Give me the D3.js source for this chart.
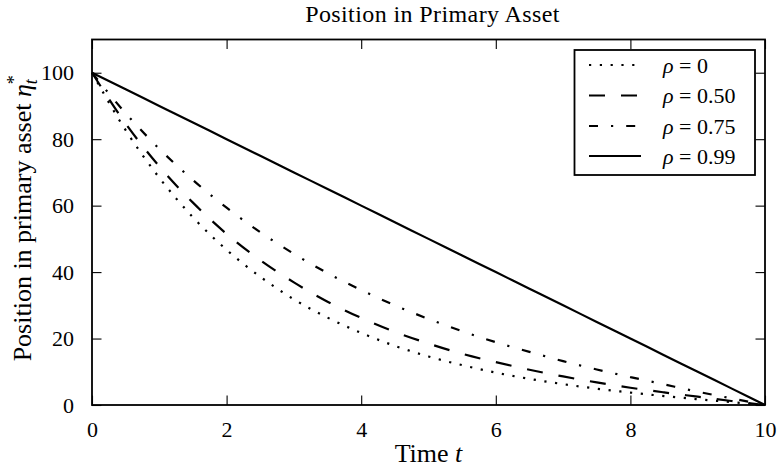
<!DOCTYPE html>
<html>
<head>
<meta charset="utf-8">
<script src="https://cdn.jsdelivr.net/npm/d3@7"></script>
<style>
  html, body { margin: 0; padding: 0; background: #fff; }
  svg { display: block; }
  text { font-family: "Liberation Serif", "DejaVu Serif", serif; fill: #000; }
</style>
</head>
<body>
<svg id="chart" width="778" height="472"></svg>
<script>
// ---- data ----
const times = [0, 0.5, 1, 1.5, 2, 2.5, 3, 3.5, 4, 4.5, 5, 5.5, 6, 6.5, 7, 7.5, 8, 8.5, 9, 9.5, 10];
const rho0   = [100, 82.7, 68.4, 56.5, 46.7, 38.6, 31.8, 26.3, 21.7, 17.8, 14.6, 12.0, 9.75, 7.87, 6.28, 4.92, 3.74, 2.69, 1.74, 0.86, 0];
const rho050 = [100, 84.7, 71.8, 60.9, 51.5, 43.6, 36.9, 31.1, 26.2, 22.0, 18.5, 15.4, 12.9, 10.6, 8.6, 6.8, 5.2, 3.8, 2.5, 1.2, 0];
const rho075 = [100, 87.8, 77.1, 67.7, 59.4, 52.0, 45.5, 39.7, 34.6, 30.0, 25.9, 22.2, 18.9, 16.0, 13.2, 10.7, 8.4, 6.2, 4.0, 2.0, 0];
const rho099 = [100, 95, 90, 85, 80, 75, 70, 65, 60, 55, 50, 45, 40, 35, 30, 25, 20, 15, 10, 5, 0];
const seriesLabels = ["0", "0.50", "0.75", "0.99"];
const xTicks = [0, 2, 4, 6, 8, 10];
const yTicks = [0, 20, 40, 60, 80, 100];
const titleText = "Position in Primary Asset";
const xLabelText = "Time ";
const yLabelText = "Position in primary asset ";

// ---- layout ----
const svg = d3.select("#chart");
const L = 92, R = 765, T = 39.5, B = 405;
const x = d3.scaleLinear().domain([0, 10]).range([L, R]);
const y = d3.scaleLinear().domain([0, 110]).range([B, T]);

const dashes = ["2.2,8.6", "16,16", "9,13,2.2,13", null];
const allSeries = [rho0, rho050, rho075, rho099];

const line = d3.line()
  .x((d, i) => x(times[i]))
  .y(d => y(d))
  .curve(d3.curveMonotoneX);

const plot = svg.append("g");
allSeries.forEach((s, k) => {
  plot.append("path")
    .datum(s)
    .attr("d", line)
    .attr("fill", "none")
    .attr("stroke", "#000")
    .attr("stroke-width", 2.2)
    .attr("stroke-dasharray", dashes[k])
    .attr("stroke-linecap", "butt");
});

// ---- axes (ticks inside, on all four sides) ----
const tickLen = 9.5;
const fmt = d3.format("d");
const xb = svg.append("g").attr("transform", `translate(0,${B})`)
  .call(d3.axisBottom(x).tickValues(xTicks).tickSizeInner(-tickLen).tickSizeOuter(0).tickPadding(16).tickFormat(fmt));
const xt = svg.append("g").attr("transform", `translate(0,${T})`)
  .call(d3.axisTop(x).tickValues(xTicks).tickSizeInner(-tickLen).tickSizeOuter(0).tickFormat(""));
const yl = svg.append("g").attr("transform", `translate(${L},0)`)
  .call(d3.axisLeft(y).tickValues(yTicks).tickSizeInner(-tickLen).tickSizeOuter(0).tickPadding(18).tickFormat(fmt));
const yr = svg.append("g").attr("transform", `translate(${R},0)`)
  .call(d3.axisRight(y).tickValues(yTicks).tickSizeInner(-tickLen).tickSizeOuter(0).tickFormat(""));

[xb, xt, yl, yr].forEach(g => {
  g.attr("font-family", null);
  g.select(".domain").remove();
  g.selectAll(".tick line").attr("stroke", "#000").attr("stroke-width", 1.1);
  g.selectAll(".tick text")
    .style("font-family", '"Liberation Serif", serif')
    .style("font-size", "22px")
    .attr("fill", "#000");
});
xb.selectAll(".tick text").attr("dy", "0.71em");

// frame
svg.append("rect")
  .attr("x", L).attr("y", T).attr("width", R - L).attr("height", B - T)
  .attr("fill", "none").attr("stroke", "#000").attr("stroke-width", 1.8);

// ---- title and axis labels ----
svg.append("text")
  .attr("x", (L + R) / 2 + 4).attr("y", 22)
  .attr("text-anchor", "middle")
  .style("font-size", "24px")
  .style("letter-spacing", "0.4px")
  .text(titleText);

const xl = svg.append("text")
  .attr("x", (L + R) / 2).attr("y", 462)
  .attr("text-anchor", "middle")
  .style("font-size", "26px");
xl.append("tspan").text(xLabelText);
xl.append("tspan").style("font-style", "italic").text("t");

const yLab = svg.append("text")
  .attr("transform", `translate(31,${(T + B) / 2 - 4}) rotate(-90)`)
  .attr("text-anchor", "middle")
  .style("font-size", "26px");
yLab.append("tspan").text(yLabelText);
yLab.append("tspan").style("font-style", "italic").text("η");
yLab.append("tspan").style("font-size", "18px").attr("dy", "-11").text("*");
yLab.append("tspan").style("font-size", "18px").style("font-style", "italic").attr("dx", "-9").attr("dy", "17").text("t");

// ---- legend ----
const lg = svg.append("g");
lg.append("rect")
  .attr("x", 574.5).attr("y", 50).attr("width", 180.5).attr("height", 125)
  .attr("fill", "#fff").attr("stroke", "#000").attr("stroke-width", 1.8);
const rowY = [65, 95.5, 126, 156];
seriesLabels.forEach((lab, k) => {
  lg.append("line")
    .attr("x1", 589).attr("x2", 641)
    .attr("y1", rowY[k]).attr("y2", rowY[k])
    .attr("stroke", "#000").attr("stroke-width", 2.2)
    .attr("stroke-dasharray", dashes[k]);
  const t = lg.append("text")
    .attr("x", 663).attr("y", rowY[k] + 7.5)
    .style("font-size", "22px");
  t.append("tspan").style("font-style", "italic").text("ρ");
  t.append("tspan").text(" = " + lab);
});
</script>
</body>
</html>
